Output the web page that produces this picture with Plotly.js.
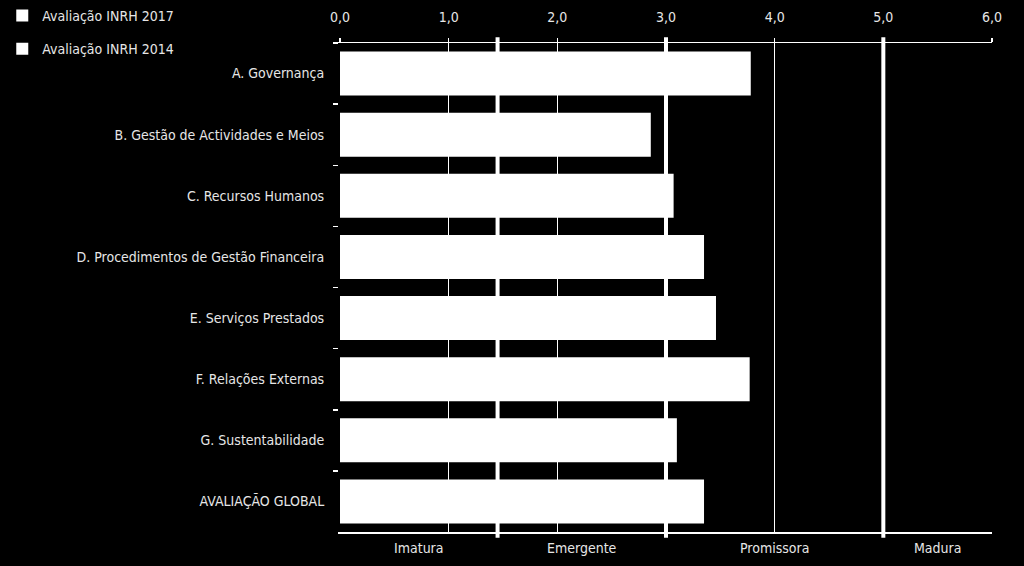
<!DOCTYPE html>
<html>
<head>
<meta charset="utf-8">
<script src="https://cdn.plot.ly/plotly-3.0.1.min.js"></script>
<style>html,body{margin:0;padding:0;background:#000;}#chart{width:1024px;height:566px;}</style>
</head>
<body>
<div id="chart"></div>
<script>
var categories = [
  "A. Governança",
  "B. Gestão de Actividades e Meios",
  "C. Recursos Humanos",
  "D. Procedimentos de Gestão Financeira",
  "E. Serviços Prestados",
  "F. Relações Externas",
  "G. Sustentabilidade",
  "AVALIAÇÃO GLOBAL"
];
var values2017 = [3.78, 2.86, 3.07, 3.35, 3.46, 3.77, 3.10, 3.35];
var values2014 = [null, null, null, null, null, null, null, null];
var zoneLabels = ["Imatura", "Emergente", "Promissora", "Madura"];
var zoneBounds = [0, 1.45, 3.0, 5.0, 6.0];
var tickVals = [0, 1, 2, 3, 4, 5, 6];

var FONT = "'Liberation Sans Narrow', 'DejaVu Sans Condensed', Arial, sans-serif";
var TXT = "#e6e6e6";

var traces = [
  {type: "bar", orientation: "h", name: "Avaliação INRH 2017", y: categories, x: values2017,
   marker: {color: "#ffffff", line: {width: 0}}, legendgroup: "a", hoverinfo: "x+y"},
  {type: "bar", orientation: "h", name: "Avaliação INRH 2014", y: categories, x: values2014,
   marker: {color: "#ffffff", line: {width: 0}}, legendgroup: "b", hoverinfo: "x+y"}
];

var shapes = [];
for (var i = 1; i < zoneBounds.length - 1; i++) {
  shapes.push({type: "line", xref: "x", yref: "paper", x0: zoneBounds[i], x1: zoneBounds[i],
    y0: -0.012, y1: 1.012, line: {color: "#ffffff", width: 4}, layer: "above"});
}
var annotations = [];
for (var j = 0; j < zoneLabels.length; j++) {
  annotations.push({xref: "x", yref: "paper", x: (zoneBounds[j] + zoneBounds[j + 1]) / 2, y: -0.033,
    text: zoneLabels[j], showarrow: false, xanchor: "center", yanchor: "middle",
    font: {family: FONT, size: 14, color: TXT}});
}

var layout = {
  width: 1024, height: 566,
  paper_bgcolor: "#000000", plot_bgcolor: "#000000",
  margin: {l: 340, r: 32, t: 43, b: 34, pad: 0, autoexpand: false},
  separators: ",.",
  barmode: "overlay", bargap: 0.28,
  font: {family: FONT, size: 14, color: TXT},
  showlegend: true,
  legend: {x: -0.518, xanchor: "left", y: 1.088, yanchor: "top", bgcolor: "rgba(0,0,0,0)",
    tracegroupgap: 12, traceorder: "grouped", font: {family: FONT, size: 14, color: TXT}},
  xaxis: {side: "top", range: [0, 6], tickvals: tickVals, tickformat: ".1f",
    showgrid: true, gridcolor: "#ffffff", gridwidth: 1.5,
    showline: true, linecolor: "#ffffff", linewidth: 1.5, mirror: true,
    ticks: "outside", ticklen: 4, tickcolor: "#ffffff", tickwidth: 1.5,
    ticklabelstandoff: 10, zeroline: false, fixedrange: true,
    tickfont: {family: FONT, size: 14, color: TXT}},
  yaxis: {type: "category", autorange: "reversed", tickson: "boundaries",
    ticks: "outside", ticklen: 5, tickcolor: "#ffffff", tickwidth: 1.5,
    showgrid: false, showline: true, linecolor: "#000000", linewidth: 2, layer: "below traces",
    zeroline: false, ticklabelstandoff: 11, fixedrange: true,
    tickfont: {family: FONT, size: 14, color: TXT}},
  shapes: shapes,
  annotations: annotations
};

Plotly.newPlot("chart", traces, layout, {displayModeBar: false, staticPlot: true});
</script>
</body>
</html>
